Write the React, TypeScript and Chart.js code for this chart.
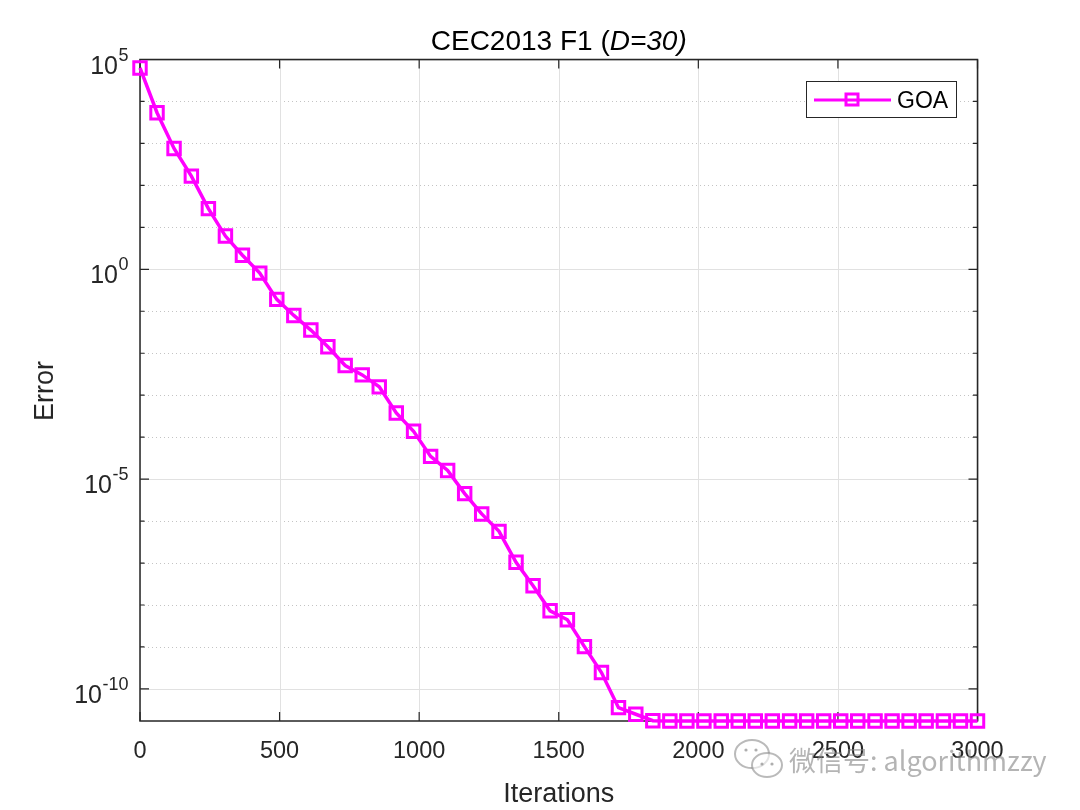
import React, { useEffect, useRef } from "react";
import { Chart, registerables } from "chart.js";

Chart.register(...registerables);

// ---- data ----
const iterations = [
  0, 61, 122, 184, 245, 306, 367, 429, 490, 551,
  612, 673, 735, 796, 857, 918, 980, 1041, 1102, 1163,
  1224, 1286, 1347, 1408, 1469, 1531, 1592, 1653, 1714, 1776,
  1837, 1898, 1959, 2020, 2082, 2143, 2204, 2265, 2327, 2388,
  2449, 2510, 2571, 2633, 2694, 2755, 2816, 2878, 2939, 3000,
];
const goaError = [
  6.3e4, 5.4e3, 7.6e2, 1.66e2, 2.79e1, 6.2, 2.16, 8.1e-1, 1.92e-1, 7.96e-2,
  3.56e-2, 1.42e-2, 5.09e-3, 3.05e-3, 1.58e-3, 3.78e-4, 1.38e-4, 3.48e-5, 1.61e-5, 4.51e-6,
  1.48e-6, 5.69e-7, 1.04e-7, 2.87e-8, 7.28e-9, 4.44e-9, 1.02e-9, 2.45e-10, 3.58e-11, 2.49e-11,
  1.75e-11, 1.72e-11, 1.72e-11, 1.72e-11, 1.72e-11, 1.72e-11, 1.72e-11, 1.72e-11, 1.72e-11, 1.72e-11,
  1.72e-11, 1.72e-11, 1.72e-11, 1.72e-11, 1.72e-11, 1.72e-11, 1.72e-11, 1.72e-11, 1.72e-11, 1.72e-11,
];
const xTicks = [0, 500, 1000, 1500, 2000, 2500, 3000];
const yMajorExps = [5, 0, -5, -10];
const yMinorExps = [4, 3, 2, 1, -1, -2, -3, -4, -6, -7, -8, -9];
const seriesName = "GOA";
const titleMain = "CEC2013 F1 (";
const titleItalic = "D=30)";
const xLabel = "Iterations";
const yLabel = "Error";
const watermark = "微信号: algorithmzzy";

const Y_MIN = 1.72e-11;
const Y_MAX = 1e5;
const MAGENTA = "#ff00ff";
const AXIS = "#262626";
const FONT = "'Liberation Sans', Arial, Helvetica, sans-serif";

const matlabPlugin = {
  id: "matlabAxes",
  beforeDatasetsDraw(chart: any) {
    const { ctx, chartArea: a, scales } = chart;
    const xs = scales.x;
    const ys = scales.y;
    ctx.save();
    // minor dotted grid (y decades)
    ctx.strokeStyle = "#c4c4c4";
    ctx.lineWidth = 1;
    ctx.setLineDash([1, 3]);
    yMinorExps.forEach((e) => {
      const y = Math.round(ys.getPixelForValue(Math.pow(10, e))) + 0.5;
      ctx.beginPath();
      ctx.moveTo(a.left, y);
      ctx.lineTo(a.right, y);
      ctx.stroke();
    });
    ctx.setLineDash([]);
    // major grid
    ctx.strokeStyle = "#e1e1e1";
    yMajorExps.forEach((e) => {
      const y = Math.round(ys.getPixelForValue(Math.pow(10, e))) + 0.5;
      ctx.beginPath();
      ctx.moveTo(a.left, y);
      ctx.lineTo(a.right, y);
      ctx.stroke();
    });
    xTicks.forEach((t) => {
      const x = Math.round(xs.getPixelForValue(t)) + 0.5;
      ctx.beginPath();
      ctx.moveTo(x, a.top);
      ctx.lineTo(x, a.bottom);
      ctx.stroke();
    });
    // box
    ctx.strokeStyle = AXIS;
    ctx.lineWidth = 1.5;
    ctx.strokeRect(a.left, a.top, a.right - a.left, a.bottom - a.top);
    // ticks
    ctx.lineWidth = 1.2;
    xTicks.forEach((t) => {
      const x = xs.getPixelForValue(t);
      ctx.beginPath();
      ctx.moveTo(x, a.bottom);
      ctx.lineTo(x, a.bottom - 9);
      ctx.moveTo(x, a.top);
      ctx.lineTo(x, a.top + 9);
      ctx.stroke();
    });
    const drawYTick = (e: number, len: number) => {
      const y = ys.getPixelForValue(Math.pow(10, e));
      ctx.beginPath();
      ctx.moveTo(a.left, y);
      ctx.lineTo(a.left + len, y);
      ctx.moveTo(a.right, y);
      ctx.lineTo(a.right - len, y);
      ctx.stroke();
    };
    yMajorExps.forEach((e) => drawYTick(e, 9));
    yMinorExps.forEach((e) => drawYTick(e, 4.5));

    // tick labels
    ctx.fillStyle = AXIS;
    ctx.font = `23.5px ${FONT}`;
    ctx.textAlign = "center";
    ctx.textBaseline = "alphabetic";
    xTicks.forEach((t) => {
      ctx.fillText(String(t), xs.getPixelForValue(t), a.bottom + 37);
    });
    yMajorExps.forEach((e) => {
      const y = ys.getPixelForValue(Math.pow(10, e));
      const sup = String(e);
      ctx.font = `18px ${FONT}`;
      const wSup = ctx.measureText(sup).width;
      ctx.font = `25px ${FONT}`;
      const wBase = ctx.measureText("10").width;
      const right = a.left - 11.5;
      ctx.textAlign = "left";
      ctx.font = `25px ${FONT}`;
      ctx.fillText("10", right - wSup - wBase - 0.5, y + 14);
      ctx.font = `18px ${FONT}`;
      ctx.fillText(sup, right - wSup, y + 1);
    });

    // axis labels
    ctx.font = `27px ${FONT}`;
    ctx.textAlign = "center";
    ctx.fillText(xLabel, (a.left + a.right) / 2, 802);
    ctx.save();
    ctx.translate(53, 391);
    ctx.rotate(-Math.PI / 2);
    ctx.fillText(yLabel, 0, 0);
    ctx.restore();

    // title
    ctx.fillStyle = "#000";
    ctx.textAlign = "left";
    ctx.font = `28px ${FONT}`;
    const w1 = ctx.measureText(titleMain).width;
    ctx.font = `italic 28px ${FONT}`;
    const w2 = ctx.measureText(titleItalic).width;
    const tx = (a.left + a.right) / 2 - (w1 + w2) / 2;
    ctx.font = `28px ${FONT}`;
    ctx.fillText(titleMain, tx, 50);
    ctx.font = `italic 28px ${FONT}`;
    ctx.fillText(titleItalic, tx + w1, 50);
    ctx.restore();
  },
  afterDatasetsDraw(chart: any) {
    const { ctx } = chart;
    ctx.save();
    // legend
    ctx.fillStyle = "#fff";
    ctx.fillRect(806, 81, 151, 37);
    ctx.strokeStyle = AXIS;
    ctx.lineWidth = 1;
    ctx.strokeRect(806.5, 81.5, 150, 36);
    ctx.strokeStyle = MAGENTA;
    ctx.lineWidth = 3;
    ctx.beginPath();
    ctx.moveTo(814, 100);
    ctx.lineTo(891, 100);
    ctx.stroke();
    ctx.lineWidth = 3;
    ctx.strokeRect(846, 94, 12, 11);
    ctx.fillStyle = "#000";
    ctx.font = `23px ${FONT}`;
    ctx.textAlign = "left";
    ctx.textBaseline = "alphabetic";
    ctx.fillText(seriesName, 897, 108);

    // watermark
    ctx.strokeStyle = "rgba(140,140,140,0.6)";
    ctx.fillStyle = "rgba(255,255,255,0.6)";
    ctx.lineWidth = 2;
    ctx.beginPath();
    ctx.ellipse(752, 754, 17, 14, 0, 0, Math.PI * 2);
    ctx.stroke();
    ctx.beginPath();
    ctx.ellipse(767, 765, 15, 12, 0, 0, Math.PI * 2);
    ctx.fill();
    ctx.stroke();
    ctx.fillStyle = "rgba(140,140,140,0.7)";
    [[746, 750], [756, 750], [762, 764], [772, 764]].forEach(([x, y]) => {
      ctx.beginPath();
      ctx.arc(x, y, 1.6, 0, Math.PI * 2);
      ctx.fill();
    });
    ctx.fillStyle = "rgba(130,130,130,0.6)";
    ctx.font = `27px 'Noto Sans CJK SC', ${FONT}`;
    ctx.fillText(watermark, 789, 771);
    ctx.restore();
  },
};

export default function App() {
  const ref = useRef<HTMLCanvasElement | null>(null);
  useEffect(() => {
    if (!ref.current) return;
    const chart = new Chart(ref.current, {
      type: "line",
      data: {
        datasets: [
          {
            label: seriesName,
            data: iterations.map((x, i) => ({ x, y: goaError[i] })),
            borderColor: MAGENTA,
            borderWidth: 3.5,
            pointStyle: "rect",
            pointRadius: 8.8,
            pointBorderWidth: 3,
            pointBorderColor: MAGENTA,
            pointBackgroundColor: "rgba(0,0,0,0)",
            fill: false,
            tension: 0,
            clip: false as any,
          },
        ],
      },
      options: {
        animation: false,
        responsive: false,
        layout: { padding: { left: 140, right: 102.5, top: 59.5, bottom: 89 } },
        plugins: { legend: { display: false }, tooltip: { enabled: false }, title: { display: false } },
        scales: {
          x: { type: "linear", min: 0, max: 3000, display: false },
          y: { type: "logarithmic", min: Y_MIN, max: Y_MAX, display: false },
        },
      },
      plugins: [matlabPlugin],
    });
    return () => chart.destroy();
  }, []);
  return (
    <div style={{ position: "absolute", left: 0, top: 0, width: 1080, height: 810, background: "#fff" }}>
      <canvas ref={ref} width={1080} height={810} style={{ display: "block" }} />
    </div>
  );
}
